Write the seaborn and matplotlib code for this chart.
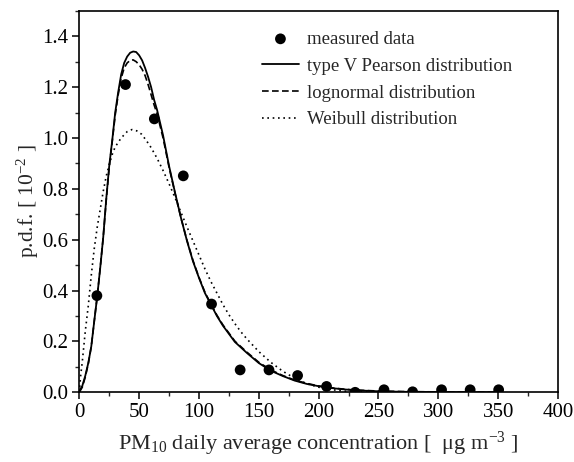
import matplotlib
matplotlib.use("Agg")
import matplotlib.pyplot as plt
import seaborn as sns
from matplotlib.ticker import MultipleLocator, FormatStrFormatter

# measured data
meas_x = [14.7, 38.6, 62.7, 86.9, 110.5, 134.4, 158.5, 182.4, 206.6, 230.5, 254.6, 278.5, 302.7, 326.6, 350.4]
meas_y = [0.38, 1.21, 1.075, 0.851, 0.347, 0.088, 0.088, 0.066, 0.023, 0.0, 0.01, 0.002, 0.01, 0.01, 0.01]

# type V Pearson
pear_x = [0, 2.5, 5, 7.5, 10, 12.5, 15, 17.5, 20, 22.5, 25, 27.5, 30, 32.5, 35, 37.5, 40, 42.5, 45, 47.5,
          50, 52.5, 55, 57.5, 60, 62.5, 65, 70, 75, 80, 85, 90, 95, 100, 105, 110, 115, 120, 130, 140,
          150, 160, 170, 180, 190, 200, 210, 220, 230, 240, 250, 270, 300, 350]
pear_y = [0.005, 0.025, 0.065, 0.115, 0.18, 0.28, 0.378, 0.49, 0.61, 0.76, 0.89, 0.99, 1.10, 1.18, 1.25, 1.295,
          1.32, 1.335, 1.34, 1.338, 1.325, 1.305, 1.275, 1.24, 1.20, 1.15, 1.11, 1.01, 0.89, 0.785, 0.685, 0.595,
          0.515, 0.45, 0.39, 0.345, 0.30, 0.262, 0.198, 0.155, 0.115, 0.085, 0.064, 0.046, 0.033, 0.024, 0.017,
          0.012, 0.008, 0.006, 0.004, 0.002, 0.001, 0.0003]

# lognormal
logn_x = [0, 2.5, 5, 7.5, 10, 12.5, 15, 17.5, 20, 22.5, 25, 27.5, 30, 32.5, 35, 37.5, 40, 42.5, 45, 47.5,
          50, 52.5, 55, 57.5, 60, 62.5, 65, 70, 75, 80, 85, 90, 95, 100, 105, 110, 115, 120, 130, 140,
          150, 160, 170, 180, 190, 200, 210, 220, 230, 240, 250, 270, 300, 350]
logn_y = [0.0, 0.02, 0.06, 0.112, 0.18, 0.28, 0.378, 0.49, 0.61, 0.755, 0.885, 0.985, 1.09, 1.17, 1.235, 1.275,
          1.295, 1.305, 1.307, 1.30, 1.288, 1.27, 1.245, 1.21, 1.17, 1.13, 1.095, 1.0, 0.885, 0.782, 0.685, 0.597,
          0.518, 0.452, 0.393, 0.347, 0.303, 0.265, 0.201, 0.158, 0.118, 0.088, 0.066, 0.048, 0.035, 0.025, 0.018,
          0.013, 0.009, 0.007, 0.005, 0.003, 0.0015, 0.0005]

# Weibull
weib_x = [0, 1, 2.5, 5, 7.5, 10, 12.5, 15, 17.5, 20, 22.5, 25, 27.5, 30, 35, 40, 44, 48, 52, 56, 60, 65, 70,
          75, 80, 85, 90, 95, 100, 105, 110, 115, 120, 125, 130, 135, 140, 150, 160, 170, 180, 190, 200, 210,
          220, 230, 240, 250]
weib_y = [0.0, 0.06, 0.12, 0.24, 0.34, 0.46, 0.565, 0.65, 0.72, 0.79, 0.85, 0.895, 0.935, 0.965, 1.0, 1.025,
          1.033, 1.028, 1.015, 0.99, 0.962, 0.92, 0.872, 0.82, 0.765, 0.707, 0.65, 0.595, 0.54, 0.485, 0.435, 0.39,
          0.345, 0.305, 0.27, 0.238, 0.21, 0.16, 0.118, 0.083, 0.055, 0.034, 0.02, 0.011, 0.005, 0.002, 0.001, 0.0]

sns.set_style("ticks")
plt.rcParams["font.family"] = ["Liberation Serif", "DejaVu Serif"]
plt.rcParams["mathtext.fontset"] = "custom"
plt.rcParams["mathtext.rm"] = "Liberation Serif"
plt.rcParams["mathtext.it"] = "Liberation Serif:italic"

fig = plt.figure(figsize=(5.74, 4.62), dpi=100)
ax = fig.add_axes([79.3 / 574, 1 - 392.3 / 462, 478.7 / 574, 381.5 / 462])

sns.lineplot(x=pear_x, y=pear_y, ax=ax, color="black", lw=1.3, linestyle="-",
             label="type V Pearson distribution", sort=False, estimator=None)
sns.lineplot(x=logn_x, y=logn_y, ax=ax, color="black", lw=1.2, linestyle=(0, (4, 2)),
             label="lognormal distribution", sort=False, estimator=None)
sns.lineplot(x=weib_x, y=weib_y, ax=ax, color="black", lw=1.2, linestyle=(0, (1, 2.2)),
             label="Weibull distribution", sort=False, estimator=None)
sns.scatterplot(x=meas_x, y=meas_y, ax=ax, color="black", s=60, edgecolor="none",
                label="measured data", zorder=5)

ax.set_xlim(0, 400)
ax.set_ylim(0, 1.5)
ax.xaxis.set_major_locator(MultipleLocator(50))
ax.xaxis.set_minor_locator(MultipleLocator(25))
ax.yaxis.set_major_locator(MultipleLocator(0.2))
ax.yaxis.set_minor_locator(MultipleLocator(0.1))
ax.yaxis.set_major_formatter(FormatStrFormatter("%.1f"))
ax.tick_params(which="major", direction="out", length=5, width=1.1, labelsize=15, colors="black", pad=3)
ax.tick_params(which="minor", direction="out", length=3, width=1.0)
for s in ax.spines.values():
    s.set_linewidth(1.2)
    s.set_color("black")

ax.set_xlabel("PM$_{10}$ daily average concentration [  μg m$^{-3}$ ]", fontsize=16, labelpad=5)
ax.set_ylabel("p.d.f. [ 10$^{-2}$ ]", fontsize=15.5, labelpad=1)

handles, labels = ax.get_legend_handles_labels()
order = [labels.index(l) for l in ["measured data", "type V Pearson distribution",
                                    "lognormal distribution", "Weibull distribution"]]
ax.legend([handles[i] for i in order], [labels[i] for i in order], loc="upper left",
          bbox_to_anchor=(0.381, 0.948), frameon=False, fontsize=13.5, handlelength=2.0,
          handletextpad=0.4, labelspacing=0.52, borderaxespad=0, borderpad=0)

fig.savefig("out.png", dpi=100)
